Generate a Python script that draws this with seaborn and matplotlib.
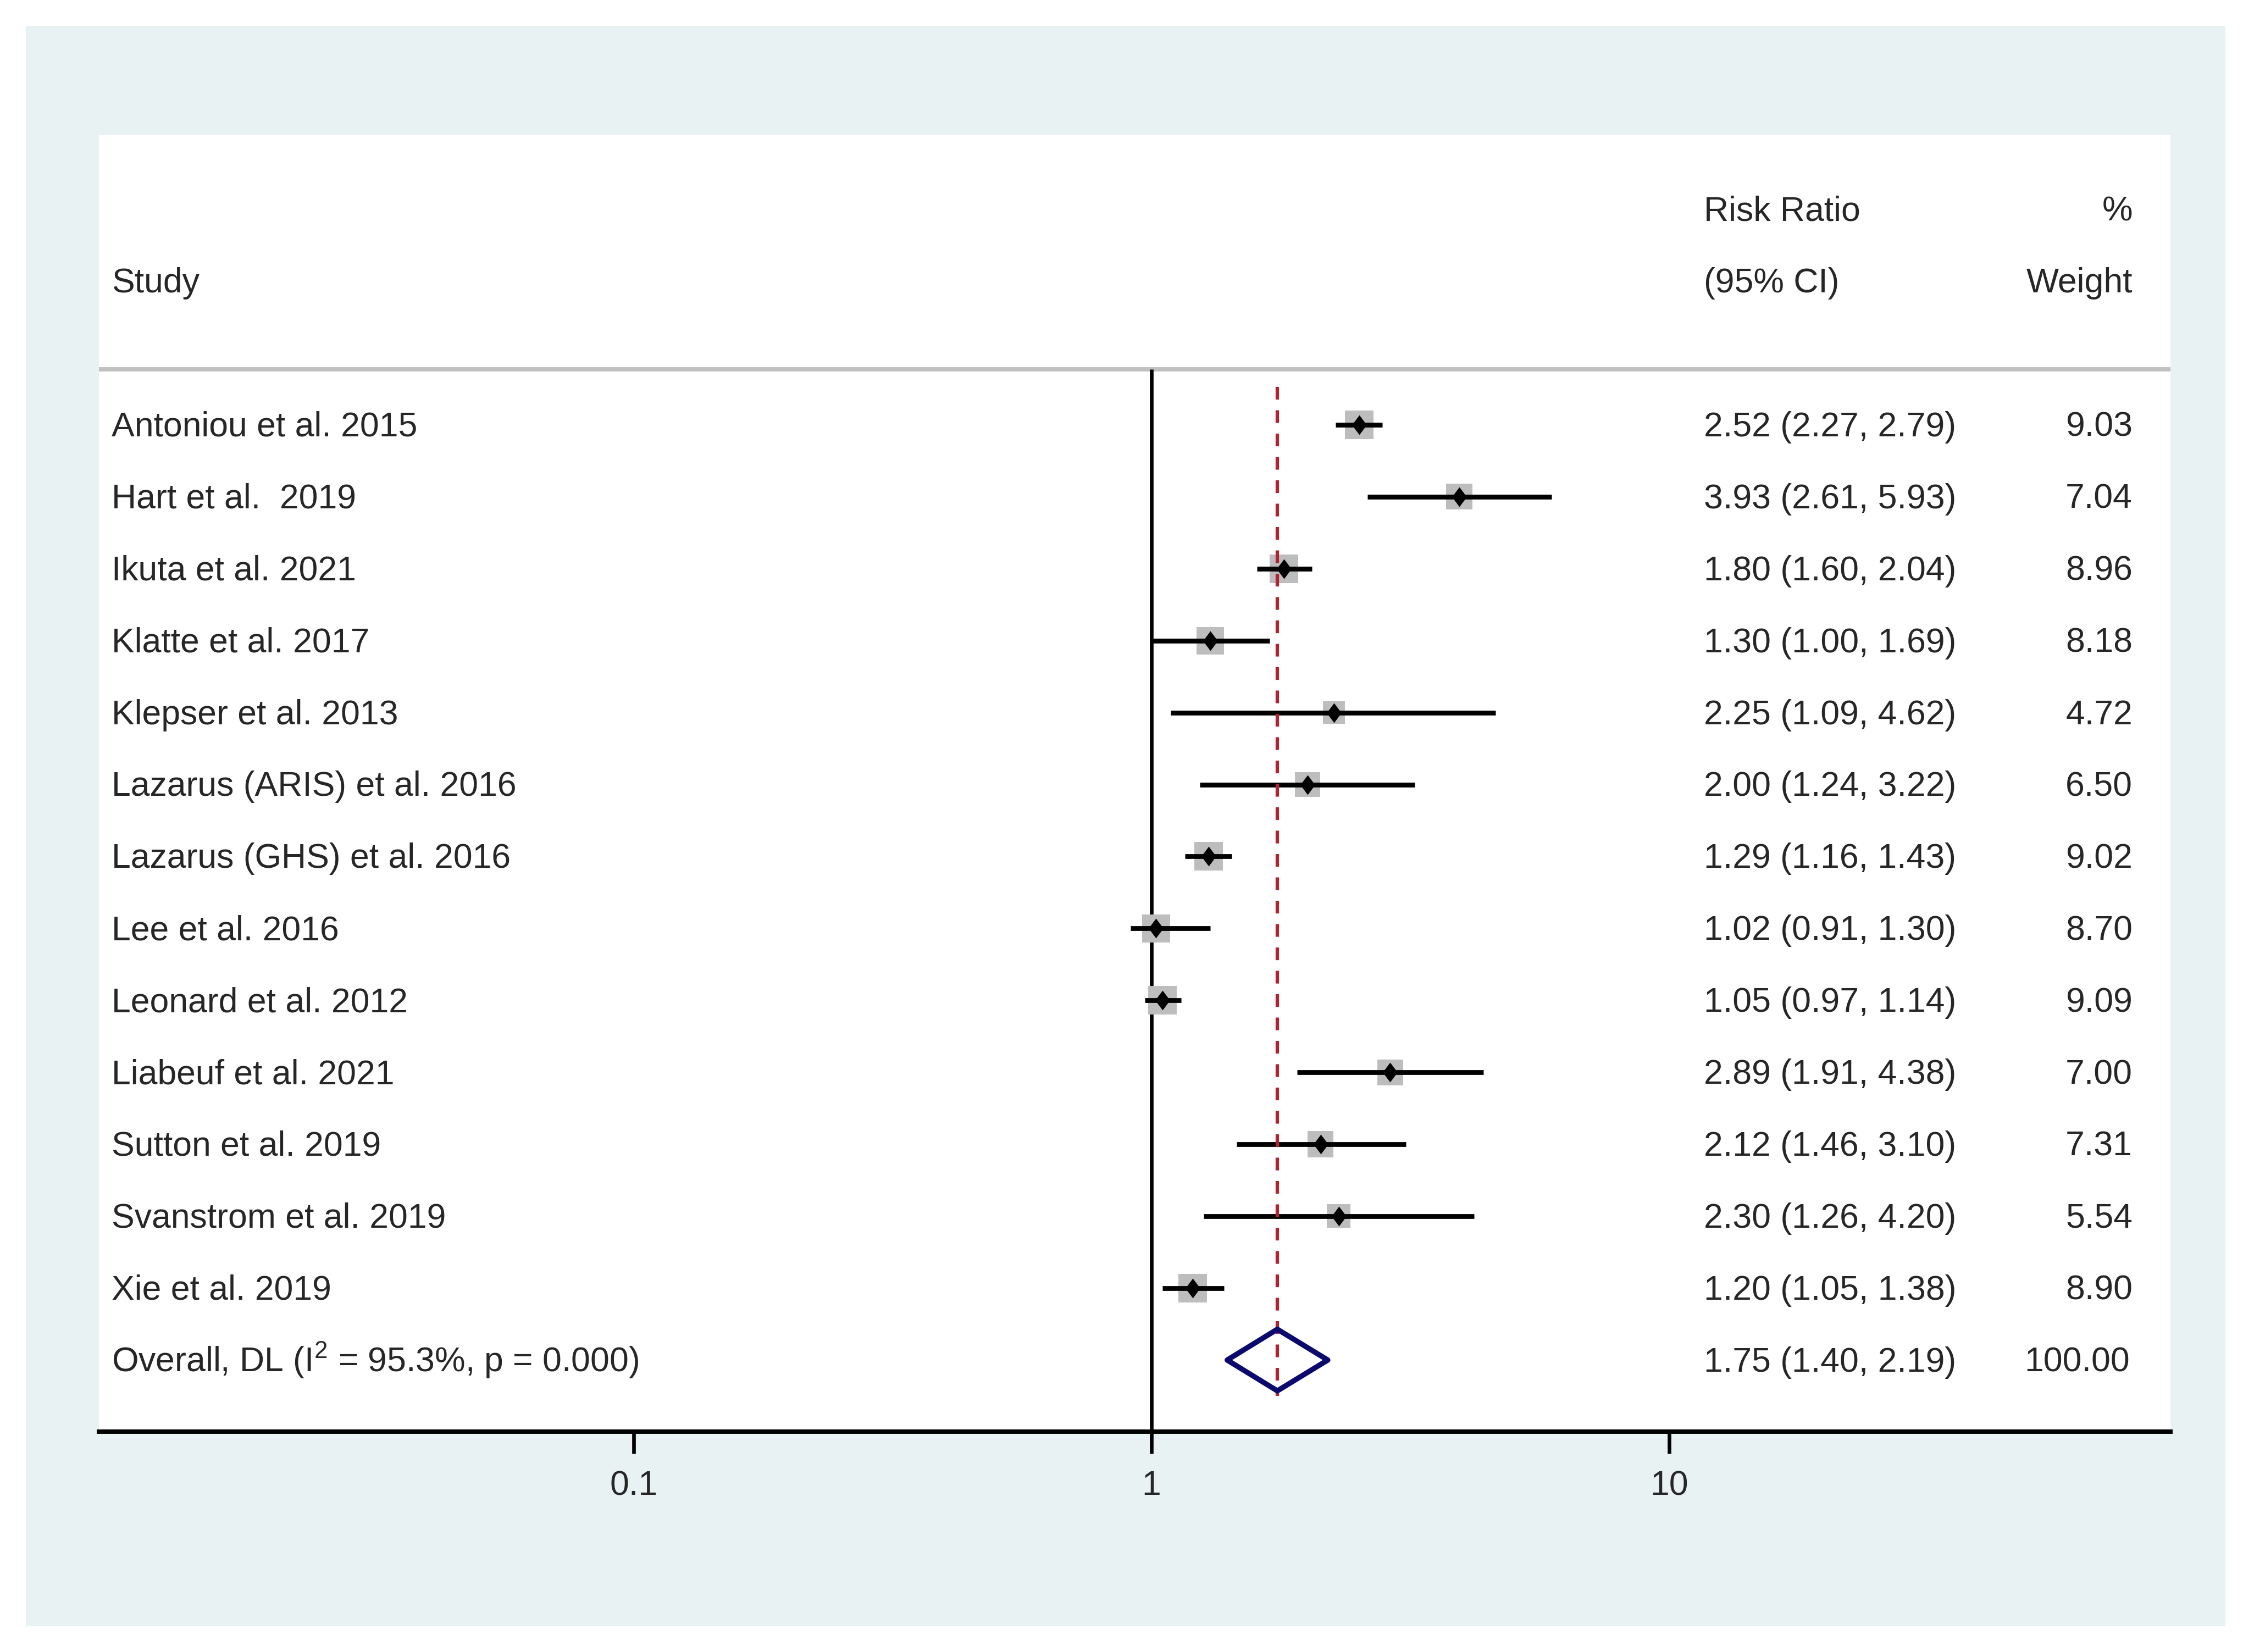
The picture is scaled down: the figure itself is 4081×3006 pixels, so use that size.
import numpy as np
import pandas as pd
import matplotlib
matplotlib.use("Agg")
import matplotlib.pyplot as plt
from matplotlib.patches import Rectangle, Polygon
from matplotlib.path import Path
import seaborn as sns

# ---------------- data ----------------
studies = ["Antoniou et al. 2015", "Hart et al.  2019", "Ikuta et al. 2021",
           "Klatte et al. 2017", "Klepser et al. 2013", "Lazarus (ARIS) et al. 2016",
           "Lazarus (GHS) et al. 2016", "Lee et al. 2016", "Leonard et al. 2012",
           "Liabeuf et al. 2021", "Sutton et al. 2019", "Svanstrom et al. 2019",
           "Xie et al. 2019"]
rr = [2.52, 3.93, 1.80, 1.30, 2.25, 2.00, 1.29, 1.02, 1.05, 2.89, 2.12, 2.30, 1.20]
ci_low = [2.27, 2.61, 1.60, 1.00, 1.09, 1.24, 1.16, 0.91, 0.97, 1.91, 1.46, 1.26, 1.05]
ci_high = [2.79, 5.93, 2.04, 1.69, 4.62, 3.22, 1.43, 1.30, 1.14, 4.38, 3.10, 4.20, 1.38]
weights = [9.03, 7.04, 8.96, 8.18, 4.72, 6.50, 9.02, 8.70, 9.09, 7.00, 7.31, 5.54, 8.90]
overall_label = "Overall, DL (I$^\\mathregular{2}$ = 95.3%, p = 0.000)"
overall_rr = 1.75
overall_low = 1.40
overall_high = 2.19
overall_weight = "100.00"
xticks = [0.1, 1, 10]
xtick_labels = ["0.1", "1", "10"]

df = pd.DataFrame({"study": studies, "rr": rr, "lo": ci_low, "hi": ci_high,
                   "w": weights})
df["row"] = np.arange(len(df))
overall_row = len(df)

# ---------------- style ----------------
sns.set_theme(style="white")
plt.rcParams["font.family"] = ["Liberation Sans", "DejaVu Sans"]
plt.rcParams["mathtext.fontset"] = "custom"
plt.rcParams["mathtext.rm"] = "Liberation Sans"
plt.rcParams["mathtext.it"] = "Liberation Sans:italic"
plt.rcParams["mathtext.bf"] = "Liberation Sans:bold"

W, H, DPI = 4081, 3006, 300
fig = plt.figure(figsize=(W / DPI, H / DPI), dpi=DPI, facecolor="white")

# outer teal panel
teal = Rectangle((47 / W, 1 - 2959 / H), (4049 - 47) / W, (2959 - 47) / H,
                 transform=fig.transFigure, facecolor="#e8f2f2",
                 edgecolor="none", zorder=-5)
fig.patches.append(teal)

ax = fig.add_axes([180 / W, 1 - 2605 / H, (3949 - 180) / W, (2605 - 246) / H])
ax.set_zorder(2)
ax.set_facecolor("white")
ax.patch.set_alpha(1.0)
ax.set_xscale("log")
ax.set_xlim(10 ** -2.033, 10 ** 1.968)
ax.set_ylim(13.995, -4.026)

FS = 15

# gray weight squares
sns.scatterplot(data=df, x="rr", y="row", size="w", sizes=(95.4, 156.8),
                size_norm=(4.72, 9.09), marker="s", color="#bdbdbd",
                linewidth=0, legend=False, ax=ax, zorder=3)

# CI lines
ax.hlines(df["row"], df["lo"], df["hi"], color="black", lw=2.1, zorder=4)

# line of no effect
ax.vlines(1, -0.772, 13.995, color="black", lw=1.6, zorder=2)

# overall dashed line
ax.vlines(overall_rr, -0.53, 13.5, color="#b0232f", lw=1.5,
          linestyles=[(0, (3.7, 3.1))], zorder=5)

# point diamonds
diamond = Path([(0, 0.5), (0.375, 0), (0, -0.5), (-0.375, 0), (0, 0.5)],
               [Path.MOVETO, Path.LINETO, Path.LINETO, Path.LINETO, Path.CLOSEPOLY])
sns.scatterplot(data=df, x="rr", y="row", marker=diamond, s=74, color="black",
                linewidth=0, legend=False, ax=ax, zorder=6)

# overall diamond
half_h = 0.428
ax.add_patch(Polygon([(overall_low, overall_row), (overall_rr, overall_row - half_h),
                      (overall_high, overall_row), (overall_rr, overall_row + half_h)],
                     closed=True, facecolor="none", edgecolor="#0a0a6e", lw=2.3,
                     joinstyle="round", zorder=7))

# header separator line
ax.axhline(-0.772, color="#c0c0c0", lw=1.9, zorder=1)

# ---------------- text ----------------
tr = ax.get_yaxis_transform()  # x axes fraction, y data
x_study = 0.0061
x_ci = 0.7747
x_w = 0.9817
off = 0.16  # baseline offset (rows)

ax.text(x_study, -2 + off, "Study", transform=tr, fontsize=FS, ha="left", va="baseline")
ax.text(x_ci, -3 + off, "Risk Ratio", transform=tr, fontsize=FS, ha="left", va="baseline")
ax.text(x_ci, -2 + off, "(95% CI)", transform=tr, fontsize=FS, ha="left", va="baseline")
ax.text(x_w, -3 + off, "%", transform=tr, fontsize=FS, ha="right", va="baseline")
ax.text(x_w, -2 + off, "Weight", transform=tr, fontsize=FS, ha="right", va="baseline")

for _, r in df.iterrows():
    y = r["row"] + off
    ax.text(x_study, y, r["study"], transform=tr, fontsize=FS, ha="left", va="baseline")
    ax.text(x_ci, y, f"{r['rr']:.2f} ({r['lo']:.2f}, {r['hi']:.2f})", transform=tr,
            fontsize=FS, ha="left", va="baseline")
    ax.text(x_w, y, f"{r['w']:.2f}", transform=tr, fontsize=FS, ha="right", va="baseline")

y = overall_row + off
ax.text(x_study, y, overall_label, transform=tr, fontsize=FS, ha="left", va="baseline")
ax.text(x_ci, y, f"{overall_rr:.2f} ({overall_low:.2f}, {overall_high:.2f})",
        transform=tr, fontsize=FS, ha="left", va="baseline")
ax.text(x_w - 0.0013, y, overall_weight, transform=tr, fontsize=FS, ha="right", va="baseline")

# ---------------- axes ----------------
for side in ["top", "left", "right"]:
    ax.spines[side].set_visible(False)
ax.spines["bottom"].set_color("black")
ax.spines["bottom"].set_linewidth(1.9)
ax.set_xticks(xticks)
ax.set_xticklabels(xtick_labels)
ax.xaxis.set_minor_locator(matplotlib.ticker.NullLocator())
ax.tick_params(axis="x", which="major", bottom=True, length=9.6, width=1.6,
               color="black", labelsize=FS, pad=7, direction="out")
ax.set_yticks([])
ax.set_xlabel("")
ax.set_ylabel("")

fig.savefig("out.png", dpi=DPI, facecolor="white")
